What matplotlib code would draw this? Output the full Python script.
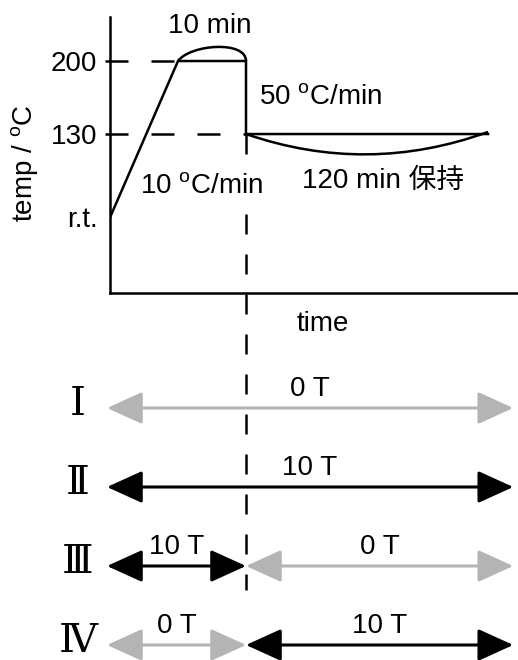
import matplotlib.pyplot as plt
from matplotlib.patches import FancyArrowPatch, PathPatch
from matplotlib.path import Path

plt.rcParams['font.family'] = ['Liberation Sans', 'Noto Sans CJK JP']
plt.rcParams['mathtext.fontset'] = 'custom'
plt.rcParams['mathtext.rm'] = 'Liberation Sans'
plt.rcParams['font.size'] = 20

# heating profile (schematic time axis, temp in C)
times = [0.0, 1.0, 2.0, 2.0, 5.56]
temps = [50, 200, 200, 130, 130]
tick_temps = [50, 130, 200]
tick_labels = ['r.t.', '130', '200']

# magnetic field per stage
row_names = ['Ⅰ', 'Ⅱ', 'Ⅲ', 'Ⅳ']
t_left, t_switch, t_right = -0.044, 2.0, 5.93
fields = [
    [(t_left, t_right, 0)],
    [(t_left, t_right, 10)],
    [(t_left, t_switch, 10), (t_switch, t_right, 0)],
    [(t_left, t_switch, 0), (t_switch, t_right, 10)],
]
colors = {0: '#b4b4b4', 10: 'black'}
LW = 1.8

fig = plt.figure(figsize=(5.18, 6.6), dpi=100)
ax = fig.add_axes([110 / 518, 1 - 293 / 660, 408 / 518, 276 / 660])
ax2 = fig.add_axes([110 / 518, 0, 408 / 518, 1 - 293 / 660])

ax.set_xlim(0, 6)
ax.set_ylim(-22.4, 242.2)
for s in ['top', 'right']:
    ax.spines[s].set_visible(False)
for s in ['left', 'bottom']:
    ax.spines[s].set_linewidth(LW)
ax.set_xticks([])
ax.set_yticks(tick_temps, tick_labels)
ax.tick_params(axis='y', length=0, pad=9)
for lbl in ax.get_yticklabels():
    lbl.set_va('center_baseline')

ax2.set_xlim(0, 6)
ax2.set_ylim(4.19, -0.456)
ax2.axis('off')

ax.plot(times, temps, color='black', lw=LW, solid_joinstyle='miter')

# guide lines
ax.plot([-0.074, times[1]], [temps[1]] * 2, color='black', lw=LW,
        ls=(0, (9.2, 9.2)), clip_on=False)
ax.plot([-0.074, times[3]], [temps[3]] * 2, color='black', lw=LW,
        ls=(0, (9.2, 9.2)), clip_on=False)

# field switch line, runs on down through the lower panel
fig.canvas.draw()
y_low = ax.transData.inverted().transform(ax2.transData.transform((0, 3.3)))[1]
ax.plot([times[3], times[3]], [temps[3], y_low], color='black', lw=LW,
        ls=(0, (8, 8)), clip_on=False, zorder=1)

# 10 min hold bracket
up = Path([(times[1], temps[1]), (times[1] + 0.18, temps[1] + 16),
           (times[2], temps[2] + 20), (times[2], temps[2])],
          [Path.MOVETO, Path.CURVE4, Path.CURVE4, Path.CURVE4])
ax.add_patch(PathPatch(up, fc='none', ec='black', lw=LW))
# 120 min hold bracket
lo = Path([(times[3], temps[3]), ((times[3] + times[4]) / 2, temps[3] - 40),
           (times[4], temps[4] + 2)],
          [Path.MOVETO, Path.CURVE3, Path.CURVE3])
ax.add_patch(PathPatch(lo, fc='none', ec='black', lw=LW))

ax.text(1.47, 234, '10 min', ha='center', va='center')
ax.text(3.09, 164.5, r'50 $^{\rm o}$C/min', ha='center', va='center')
ax.text(1.34, 79, r'10 $^{\rm o}$C/min', ha='center', va='center',
        bbox=dict(fc='white', ec='none', pad=0.5), zorder=5)
ax.text(4.01, 85, '120 min 保持', ha='center', va='center')
ax.text(3.13, -52, 'time', ha='center', va='center', clip_on=False)
ax.text(-1.25, 102, r'temp / $^{\rm o}$C', ha='center', va='center',
        rotation=90, clip_on=False)

for i, segs in enumerate(fields):
    r = i + 1
    ax2.text(-0.47, r - 0.05, row_names[i], ha='center', va='center',
             family=['DejaVu Serif'], fontsize=29, clip_on=False)
    for a, b, f in segs:
        arr = FancyArrowPatch((a, r), (b, r),
                              arrowstyle='<|-|>,head_length=2.2,head_width=1.0',
                              mutation_scale=10, lw=2.2, color=colors[f],
                              shrinkA=0, shrinkB=0, clip_on=False, zorder=3)
        ax2.add_patch(arr)
        ax2.annotate(f'{f} T', xy=((a + b) / 2, r), xytext=(0, 13.5),
                     textcoords='offset points', ha='center', va='center')

fig.savefig('out.png', dpi=100)
